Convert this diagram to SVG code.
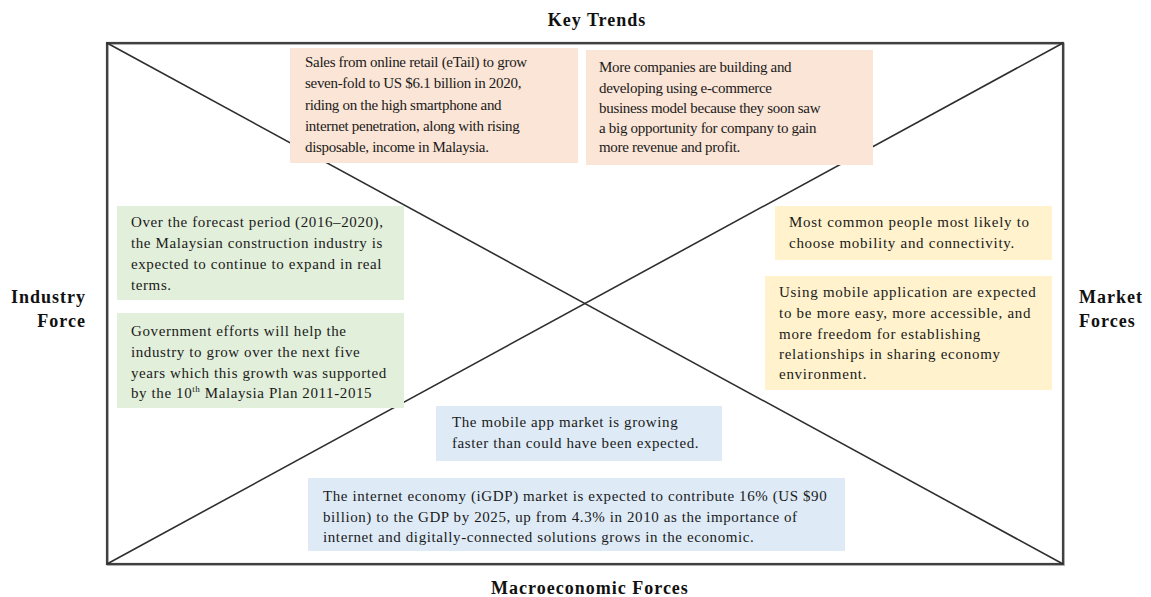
<svg xmlns="http://www.w3.org/2000/svg" width="1151" height="597" viewBox="0 0 1151 597">
<style>
.frame{fill:none;stroke:#404040;stroke-width:2.2}
.diag{stroke:#2e2e2e;stroke-width:1.6;fill:none}
.t{font-family:"Liberation Serif","Times New Roman",serif;font-size:15px;fill:#1a1a1a}
.tn{letter-spacing:-0.3px}
.tw{letter-spacing:0.6px}
.tx{letter-spacing:0.72px}
.h{font-family:"Liberation Serif","Times New Roman",serif;font-size:18px;font-weight:bold;fill:#111;letter-spacing:1px}
.pink{fill:#fbe5d6}
.green{fill:#e2efda}
.yellow{fill:#fff2cc}
.blue{fill:#deebf7}
</style>
<rect width="1151" height="597" fill="#fff"/>
<g id="connectors">
<rect x="108" y="44" width="956" height="521" fill="none" stroke="#bbbbbb" stroke-width="2"/>
<rect class="frame" x="107" y="43" width="956" height="521"/>
<line class="diag" x1="107" y1="43" x2="1063" y2="564"/>
<line class="diag" x1="1063" y1="43" x2="107" y2="564"/>
</g>
<g id="labels">
<text class="h" x="597" y="26" text-anchor="middle">Key Trends</text>
<text class="h" x="590" y="594" text-anchor="middle">Macroeconomic Forces</text>
<text class="h" x="86" y="303" text-anchor="end">Industry</text>
<text class="h" x="86" y="327" text-anchor="end">Force</text>
<text class="h" x="1079" y="303">Market</text>
<text class="h" x="1079" y="327">Forces</text>
</g>
<g id="trend1" class="t tn">
<rect class="pink" x="290" y="48" width="288" height="115"/>
<text x="305" y="67">Sales from online retail (eTail) to grow</text>
<text x="305" y="88">seven-fold to US $6.1 billion in 2020,</text>
<text x="305" y="110">riding on the high smartphone and</text>
<text x="305" y="131">internet penetration, along with rising</text>
<text x="305" y="152">disposable, income in Malaysia.</text>
</g>
<g id="trend2" class="t tn">
<rect class="pink" x="586" y="50" width="287" height="115"/>
<text x="599" y="72">More companies are building and</text>
<text x="599" y="93">developing using e-commerce</text>
<text x="599" y="113">business model because they soon saw</text>
<text x="599" y="133">a big opportunity for company to gain</text>
<text x="599" y="152">more revenue and profit.</text>
</g>
<g id="industry1" class="t tw">
<rect class="green" x="117" y="206" width="287" height="94"/>
<text x="131" y="227">Over the forecast period (2016–2020),</text>
<text x="131" y="248">the Malaysian construction industry is</text>
<text x="131" y="269">expected to continue to expand in real</text>
<text x="131" y="290">terms.</text>
</g>
<g id="industry2" class="t tw">
<rect class="green" x="117" y="313" width="287" height="95"/>
<text x="131" y="336">Government efforts will help the</text>
<text x="131" y="357">industry to grow over the next five</text>
<text x="131" y="378">years which this growth was supported</text>
<text x="131" y="398">by the 10<tspan font-size="9" dy="-6">th</tspan><tspan dy="6"> Malaysia Plan 2011-2015</tspan></text>
</g>
<g id="market1" class="t tx">
<rect class="yellow" x="775" y="206" width="277" height="54"/>
<text x="789" y="227">Most common people most likely to</text>
<text x="789" y="248">choose mobility and connectivity.</text>
</g>
<g id="market2" class="t tx">
<rect class="yellow" x="765" y="276" width="287" height="114"/>
<text x="779" y="297">Using mobile application are expected</text>
<text x="779" y="318">to be more easy, more accessible, and</text>
<text x="779" y="339">more freedom for establishing</text>
<text x="779" y="359">relationships in sharing economy</text>
<text x="779" y="379">environment.</text>
</g>
<g id="macro1" class="t tw">
<rect class="blue" x="436" y="406" width="286" height="55"/>
<text x="452" y="427">The mobile app market is growing</text>
<text x="452" y="448">faster than could have been expected.</text>
</g>
<g id="macro2" class="t tw">
<rect class="blue" x="308" y="478" width="537" height="73"/>
<text x="323" y="501">The internet economy (iGDP) market is expected to contribute 16% (US $90</text>
<text x="323" y="522">billion) to the GDP by 2025, up from 4.3% in 2010 as the importance of</text>
<text x="323" y="542">internet and digitally-connected solutions grows in the economic.</text>
</g>
</svg>
